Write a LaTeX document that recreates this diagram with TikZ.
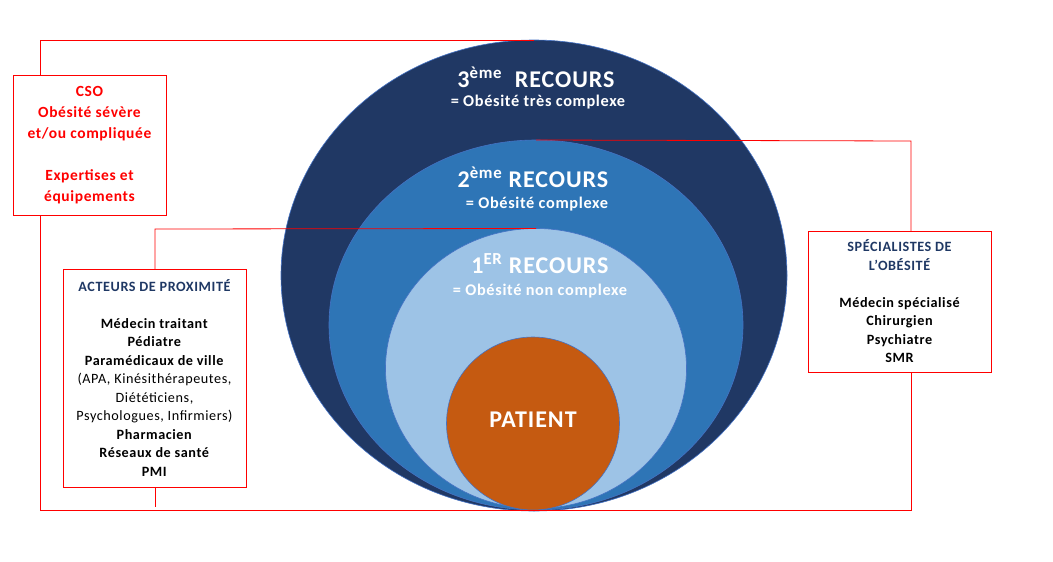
\documentclass[tikz,border=0pt]{standalone}
\usepackage{fontspec}
\setmainfont{Carlito}[LetterSpace=4]
\usetikzlibrary{shapes.geometric}
\definecolor{navy}{HTML}{203864}
\definecolor{midblue}{HTML}{2E75B6}
\definecolor{lightblue}{HTML}{9DC3E6}
\definecolor{rust}{HTML}{C55A11}
\definecolor{edgeblue}{HTML}{4472C4}
\definecolor{titlenavy}{HTML}{1F3864}
\definecolor{boxred}{HTML}{FF0000}
\begin{document}
\begin{tikzpicture}[x=1pt,y=-1pt,
  ring/.style={ellipse,draw=edgeblue,line width=0.6pt,inner sep=0pt,outer sep=0pt},
  infobox/.style={draw=boxred,line width=0.8pt,inner sep=0pt,outer sep=0pt,align=center},
  link/.style={draw=boxred,line width=0.8pt},
  big/.style={font=\bfseries\fontsize{24}{27}\selectfont,text=white},
  sub/.style={font=\bfseries\fontsize{16.3}{19}\selectfont,text=white}]
\useasboundingbox (0,0) rectangle (1053,562);
% ellipses
\node[ring,fill=navy,minimum width=506pt,minimum height=471pt] (ell3) at (534,275.5) {};
\node[ring,fill=midblue,minimum width=414pt,minimum height=370pt] (ell2) at (536,325) {};
\node[ring,fill=lightblue,minimum width=301pt,minimum height=280pt] (ell1) at (536,368.5) {};
\node[ring,fill=rust,minimum width=173pt,minimum height=173pt] (pat) at (533,423.5) {};
% texts in ellipses
\node[big] (t3) at (536,77) {3\textsuperscript{ème}\ \ RECOURS};
\node[sub] (s3) at (538,102) {= Obésité très complexe};
\node[big] (t2) at (533,177) {2\textsuperscript{ème} RECOURS};
\node[sub] (s2) at (537,204) {= Obésité complexe};
\node[big] (t1) at (540,264) {1\textsuperscript{ER} RECOURS};
\node[sub] (s1) at (540,291) {= Obésité non complexe};
\node[big] (pt) at (533,420) {PATIENT};
% boxes
\node[infobox,minimum width=153pt,minimum height=140pt,text=boxred,
  font=\bfseries\fontsize{15.5}{21}\selectfont] (cso) at (89.5,145)
  {CSO\\Obésité sévère\\et/ou compliquée\\[21pt]Expertises et\\équipements};
\node[infobox,minimum width=183pt,minimum height=218pt,
  font=\fontsize{14.2}{18.5}\selectfont] (act) at (154.5,378)
  {\textbf{\textcolor{titlenavy}{ACTEURS DE PROXIMITÉ}}\\[18.5pt]
   \textbf{Médecin traitant}\\\textbf{Pédiatre}\\\textbf{Paramédicaux de ville}\\
   (APA, Kinésithérapeutes,\\Diététiciens,\\Psychologues, Infirmiers)\\
   \textbf{Pharmacien}\\\textbf{Réseaux de santé}\\\textbf{PMI}};
\node[infobox,minimum width=183pt,minimum height=141pt,
  font=\bfseries\fontsize{14.2}{18.5}\selectfont] (spec) at (899.5,301.5)
  {\textcolor{titlenavy}{SPÉCIALISTES DE}\\\textcolor{titlenavy}{L’OBÉSITÉ}\\[18.5pt]
   Médecin spécialisé\\Chirurgien\\Psychiatre\\SMR};
% connector corners
\coordinate (tl) at (40,40);
\coordinate (bl) at (40,510);
\coordinate (br) at (911,510);
\coordinate (tr) at (911,141);
\coordinate (al) at (155,229);
\coordinate (ab) at (155,507);
% connectors
\draw[link] (cso.north -| tl) -- (tl) -- (ell3.north);
\draw[link] (cso.south -| tl) -- (bl) -- (br) -- (spec.south -| br);
\draw[link] (act.north -| al) -- (al) -- (ell1.north);
\draw[link] (act.south -| al) -- (ab);
\draw[link] (spec.north -| tr) -- (tr) -- (ell2.north);
\end{tikzpicture}
\end{document}
